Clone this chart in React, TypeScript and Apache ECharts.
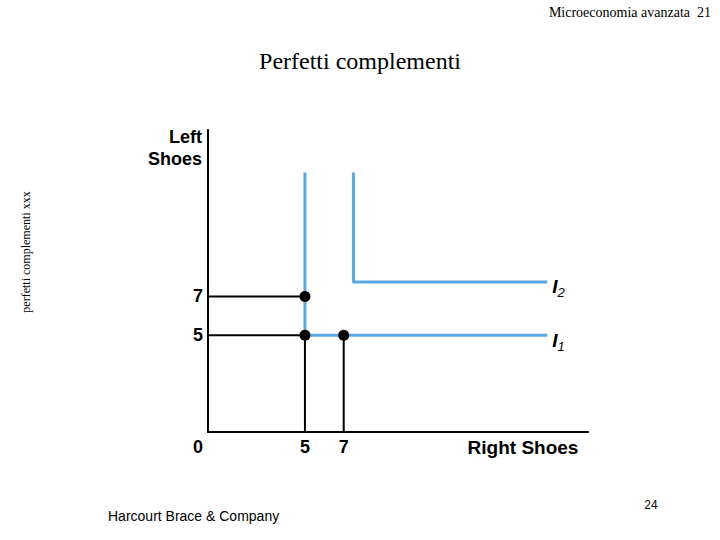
import React, { useEffect, useRef } from "react";
import * as echarts from "echarts";

// Axis ranges (units)
const xMax = 19.6;
const yMax = 15.6;
// Tick labels
const xTicks = [0, 5, 7];
const yTicks = [5, 7];
// Indifference curves (L-shaped)
const curveI1: number[][] = [[5, 13.4], [5, 5], [17.5, 5]];
const curveI2: number[][] = [[7.5, 13.4], [7.5, 7.75], [17.5, 7.75]];
const curveNames = ["1", "2"];
// Guide lines
const guides: number[][][] = [
  [[0, 7], [5, 7]],
  [[0, 5], [5, 5]],
  [[5, 0], [5, 5]],
  [[7, 0], [7, 5]],
];
// Bundles
const bundles: number[][] = [[5, 7], [5, 5], [7, 5]];

const SANS = "'Liberation Sans', Arial, sans-serif";
const SERIF = "'Liberation Serif', 'Times New Roman', serif";
const BLUE = "#5aa9e0";

export default function App() {
  const ref = useRef<HTMLDivElement>(null);
  useEffect(() => {
    document.body.style.margin = "0";
    const chart = echarts.init(ref.current!, null, { renderer: "svg" });
    const curveSeries = [curveI1, curveI2].map((d, i) => ({
      type: "line",
      data: d,
      showSymbol: false,
      z: 2,
      lineStyle: { color: BLUE, width: 3 },
      endLabel: {
        show: true,
        distance: 5,
        offset: [0, 5],
        formatter: "{i|I}{s|" + curveNames[i] + "}",
        rich: {
          i: { fontFamily: SANS, fontSize: 19, fontStyle: "italic", fontWeight: "bold", color: "#000" },
          s: { fontFamily: SANS, fontSize: 13, fontStyle: "italic", color: "#000", padding: [12, 0, 0, 0] },
        },
      },
    }));
    const guideSeries = guides.map((g) => ({
      type: "line",
      data: g,
      showSymbol: false,
      z: 3,
      lineStyle: { color: "#000", width: 2 },
    }));
    chart.setOption({
      animation: false,
      backgroundColor: "#fff",
      title: {
        text: "Perfetti complementi",
        left: "center",
        top: 44,
        textStyle: { fontFamily: SERIF, fontSize: 24, fontWeight: "normal", color: "#000" },
      },
      grid: { left: 208, right: 132, top: 130, bottom: 108, outerBoundsMode: "none" },
      xAxis: {
        type: "value",
        min: 0,
        max: xMax,
        splitLine: { show: false },
        axisTick: { show: false },
        axisLine: { show: true, onZero: false, lineStyle: { color: "#000", width: 2 } },
        axisLabel: {
          customValues: xTicks,
          margin: 6,
          fontFamily: SANS,
          fontSize: 18,
          fontWeight: "bold",
          color: "#000",
          formatter: (v: number) => (v === 0 ? "{z|0}" : String(v)),
          rich: { z: { fontFamily: SANS, fontSize: 18, fontWeight: "bold", color: "#000", padding: [0, 20, 0, 0] } },
        },
      },
      yAxis: {
        type: "value",
        min: 0,
        max: yMax,
        splitLine: { show: false },
        axisTick: { show: false },
        axisLine: { show: true, onZero: false, lineStyle: { color: "#000", width: 2 } },
        axisLabel: {
          customValues: yTicks,
          margin: 5,
          fontFamily: SANS,
          fontSize: 18,
          fontWeight: "bold",
          color: "#000",
        },
      },
      graphic: [
        {
          type: "text",
          right: 9,
          top: 5,
          style: { text: "Microeconomia avanzata  21", fontFamily: SERIF, fontSize: 14, fill: "#000" },
        },
        {
          type: "text",
          x: 26,
          y: 252,
          rotation: Math.PI / 2,
          style: {
            text: "perfetti complementi xxx",
            fontFamily: SERIF,
            fontSize: 12,
            fill: "#000",
            align: "center",
            verticalAlign: "middle",
          },
        },
        {
          type: "text",
          x: 202,
          y: 126,
          style: {
            text: "Left\nShoes",
            fontFamily: SANS,
            fontSize: 18,
            fontWeight: "bold",
            lineHeight: 22,
            fill: "#000",
            align: "right",
          },
        },
        {
          type: "text",
          x: 523,
          y: 447,
          style: {
            text: "Right Shoes",
            fontFamily: SANS,
            fontSize: 19,
            fontWeight: "bold",
            fill: "#000",
            align: "center",
            verticalAlign: "middle",
          },
        },
        {
          type: "text",
          x: 108,
          y: 516,
          style: {
            text: "Harcourt Brace & Company",
            fontFamily: SANS,
            fontSize: 14,
            fill: "#000",
            verticalAlign: "middle",
          },
        },
        {
          type: "text",
          x: 651,
          y: 505,
          style: {
            text: "24",
            fontFamily: SANS,
            fontSize: 12,
            fill: "#000",
            align: "center",
            verticalAlign: "middle",
          },
        },
      ],
      series: [
        ...curveSeries,
        ...guideSeries,
        {
          type: "scatter",
          data: bundles,
          symbol: "circle",
          symbolSize: 11,
          z: 4,
          itemStyle: { color: "#000", opacity: 1 },
        },
      ],
    });
    return () => chart.dispose();
  }, []);
  return <div ref={ref} style={{ width: 720, height: 540 }} />;
}
